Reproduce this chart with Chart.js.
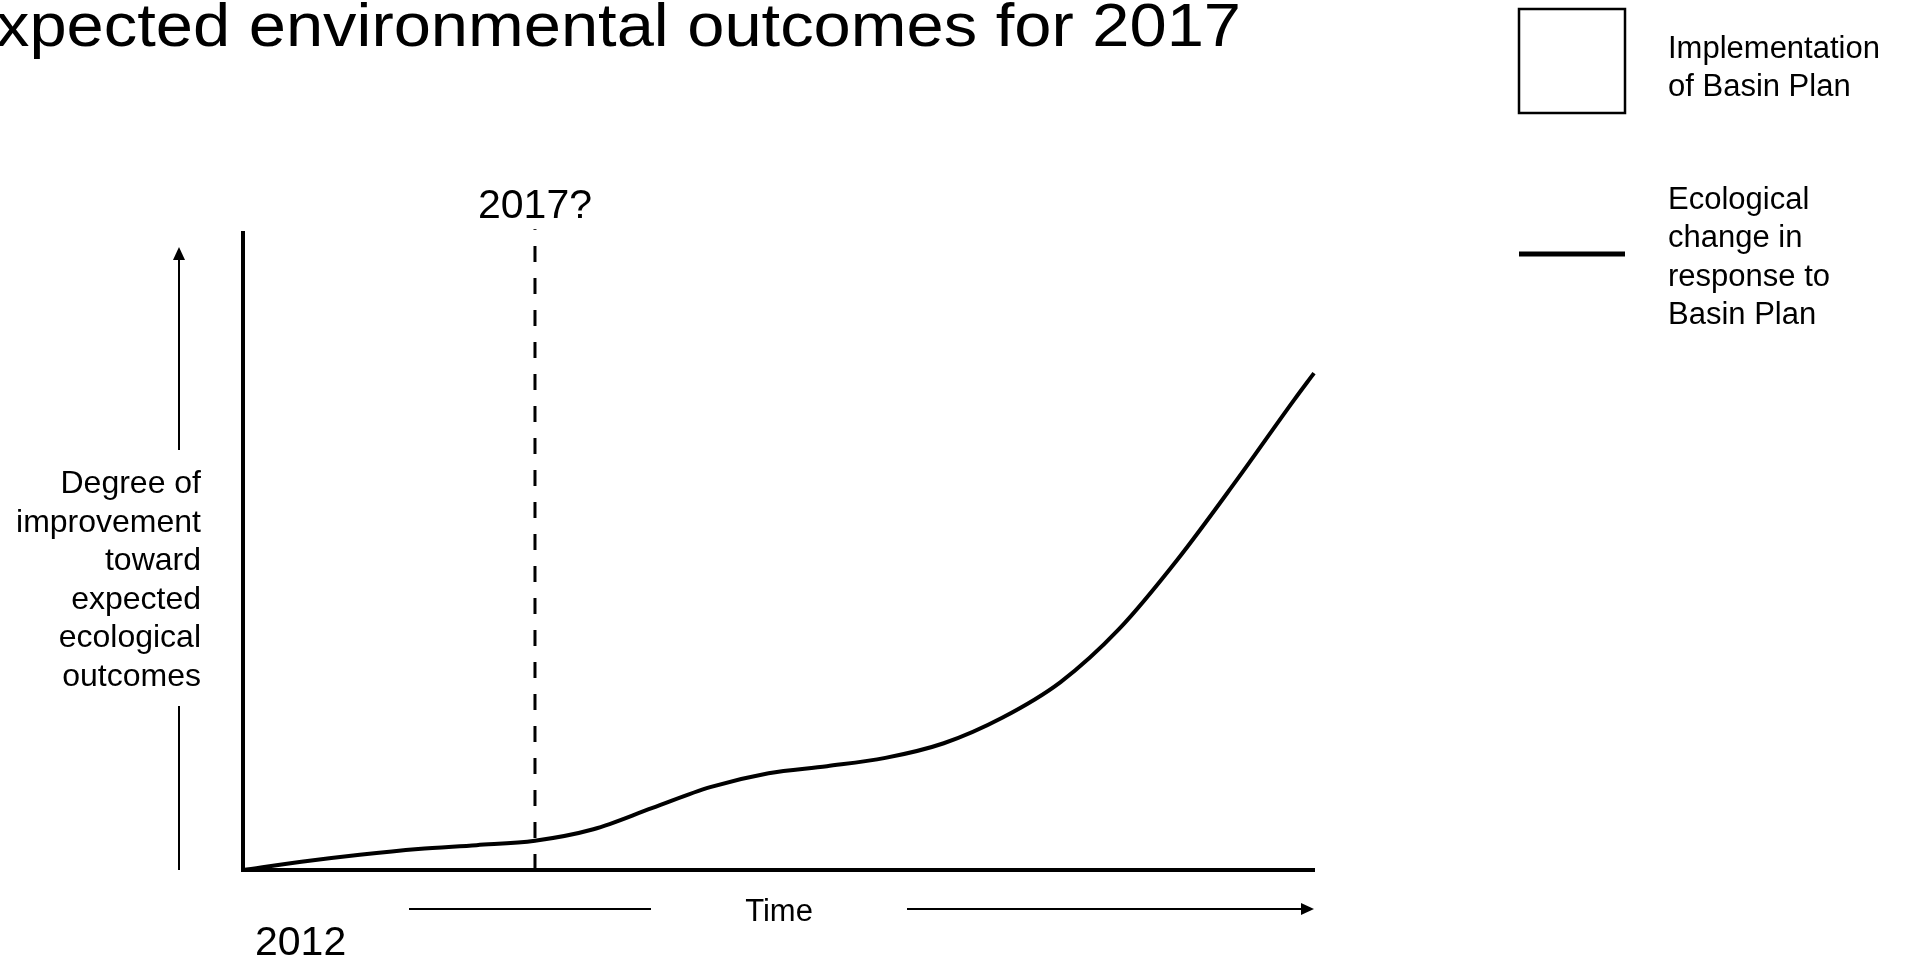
<!DOCTYPE html>
<html>
<head>
<meta charset="utf-8">
<script src="https://cdn.jsdelivr.net/npm/chart.js@4.4.1/dist/chart.umd.min.js"></script>
<style>
  html, body { margin: 0; padding: 0; background: #fff; }
  #box { width: 1907px; height: 960px; position: relative; }
</style>
</head>
<body>
<div id="box"><canvas id="chart"></canvas></div>
<script>
// years along the time axis
const YEARS = [2012, 2013, 2014, 2015, 2016, 2017, 2018, 2019, 2020, 2021, 2022, 2023, 2024, 2025, 2026, 2027, 2028, 2029, 2030, 2030.34]

// ecological change in response to the plan (degree of improvement, 0-100)
const CHANGE = [0, 1.3, 2.4, 3.3, 3.9, 4.6, 6.4, 9.7, 13.0, 15.2, 16.3, 17.6, 19.9, 23.9, 29.5, 37.8, 48.7, 61.0, 73.8, 78.0]

// the "2017?" marker
const MARK_YEAR = 2017
const MARK_TOP = 100.6

// axis ranges
const X_MIN = 2012
const X_MAX = 2030.34
const Y_MIN = 0
const Y_MAX = 100

// texts
const TITLE = "Expected environmental outcomes for 2017"
const MARK_LABEL = "2017?"
const START_LABEL = "2012"
const TIME_LABEL = "Time"
const Y_LABEL = ["Degree of", "improvement", "toward", "expected", "ecological", "outcomes"]
const LEGEND_BOX = ["Implementation", "of Basin Plan"]
const LEGEND_LINE = ["Ecological", "change in", "response to", "Basin Plan"]

const FONT = "'Liberation Sans', Arial, sans-serif"


// filled arrow head
function arrowHead(ctx, x, y, dir, len, half) {
  ctx.beginPath()
  if (dir === "up") {
    ctx.moveTo(x, y)
    ctx.lineTo(x - half, y + len)
    ctx.lineTo(x + half, y + len)
  } else {
    ctx.moveTo(x, y)
    ctx.lineTo(x - len, y - half)
    ctx.lineTo(x - len, y + half)
  }
  ctx.closePath()
  ctx.fill()
}


// straight line
function line(ctx, x1, y1, x2, y2, width) {
  ctx.lineWidth = width
  ctx.beginPath()
  ctx.moveTo(x1, y1)
  ctx.lineTo(x2, y2)
  ctx.stroke()
}


// texts, arrows and legend around the plot
const decor = {
  id: "decor",
  afterDraw(chart) {
    const ctx = chart.ctx
    const area = chart.chartArea
    const xs = chart.scales.x

    ctx.save()
    ctx.fillStyle = "#000"
    ctx.strokeStyle = "#000"
    ctx.lineCap = "butt"

    // title, cut at the left edge like the slide
    ctx.font = "62px " + FONT
    ctx.textBaseline = "alphabetic"
    ctx.textAlign = "left"
    const wFull = ctx.measureText(TITLE).width
    const wE = ctx.measureText(TITLE[0]).width
    const sx = (1241 + 4) / (wFull - wE)
    ctx.save()
    ctx.translate(-4 - wE * sx, 46)
    ctx.scale(sx, 1)
    ctx.fillText(TITLE, 0, 0)
    ctx.restore()

    // marker label
    ctx.font = "41px " + FONT
    ctx.textAlign = "center"
    ctx.fillText(MARK_LABEL, xs.getPixelForValue(MARK_YEAR), 218)

    // start year
    ctx.textAlign = "left"
    ctx.fillText(START_LABEL, area.left + 12, 955)

    // time label with arrows
    ctx.font = "31px " + FONT
    ctx.textAlign = "center"
    ctx.fillText(TIME_LABEL, 779, 921)
    line(ctx, 409, 909, 651, 909, 2)
    line(ctx, 907, 909, area.right - 10, 909, 2)
    arrowHead(ctx, area.right, 909, "right", 13, 6)

    // y label with arrow
    ctx.font = "32px " + FONT
    ctx.textAlign = "right"
    Y_LABEL.forEach(function (text, i) {
      ctx.fillText(text, 201, 493 + i * 38.5)
    })
    line(ctx, 179, 258, 179, 450, 2)
    line(ctx, 179, 706, 179, area.bottom, 2)
    arrowHead(ctx, 179, 247, "up", 13, 6)

    // legend: box item
    ctx.lineWidth = 2.5
    ctx.strokeRect(1519, 9, 106, 104)
    ctx.font = "31px " + FONT
    ctx.textAlign = "left"
    LEGEND_BOX.forEach(function (text, i) {
      ctx.fillText(text, 1668, 58 + i * 38)
    })

    // legend: line item
    line(ctx, 1519, 254, 1625, 254, 5)
    LEGEND_LINE.forEach(function (text, i) {
      ctx.fillText(text, 1668, 209 + i * 38.3)
    })

    ctx.restore()
  },
}


// axis without ticks or grid, only the black border
function bareAxis(min, max) {
  return {
    type: "linear",
    min: min,
    max: max,
    grid: { display: false, drawTicks: false },
    ticks: { display: false },
    border: { display: true, color: "#000", width: 4 },
  }
}


// draw the chart
function drawChart() {
  const curve = YEARS.map(function (year, i) {
    return { x: year, y: CHANGE[i] }
  })

  new Chart(document.getElementById("chart"), {
    type: "line",
    data: {
      datasets: [
        {
          label: "Ecological change in response to Basin Plan",
          data: curve,
          borderColor: "#000",
          borderWidth: 4,
          pointRadius: 0,
          cubicInterpolationMode: "monotone",
          clip: false,
        },
        {
          label: MARK_LABEL,
          data: [{ x: MARK_YEAR, y: 0 }, { x: MARK_YEAR, y: MARK_TOP }],
          borderColor: "#000",
          borderWidth: 3,
          borderDash: [16, 16],
          pointRadius: 0,
          clip: false,
        },
      ],
    },
    options: {
      responsive: true,
      maintainAspectRatio: false,
      devicePixelRatio: 1,
      animation: false,
      layout: { padding: { left: 243, right: 593, top: 233, bottom: 90 } },
      plugins: {
        legend: { display: false },
        title: { display: false },
        tooltip: { enabled: false },
      },
      scales: {
        x: bareAxis(X_MIN, X_MAX),
        y: bareAxis(Y_MIN, Y_MAX),
      },
    },
    plugins: [decor],
  })
}


drawChart()
</script>
</body>
</html>
